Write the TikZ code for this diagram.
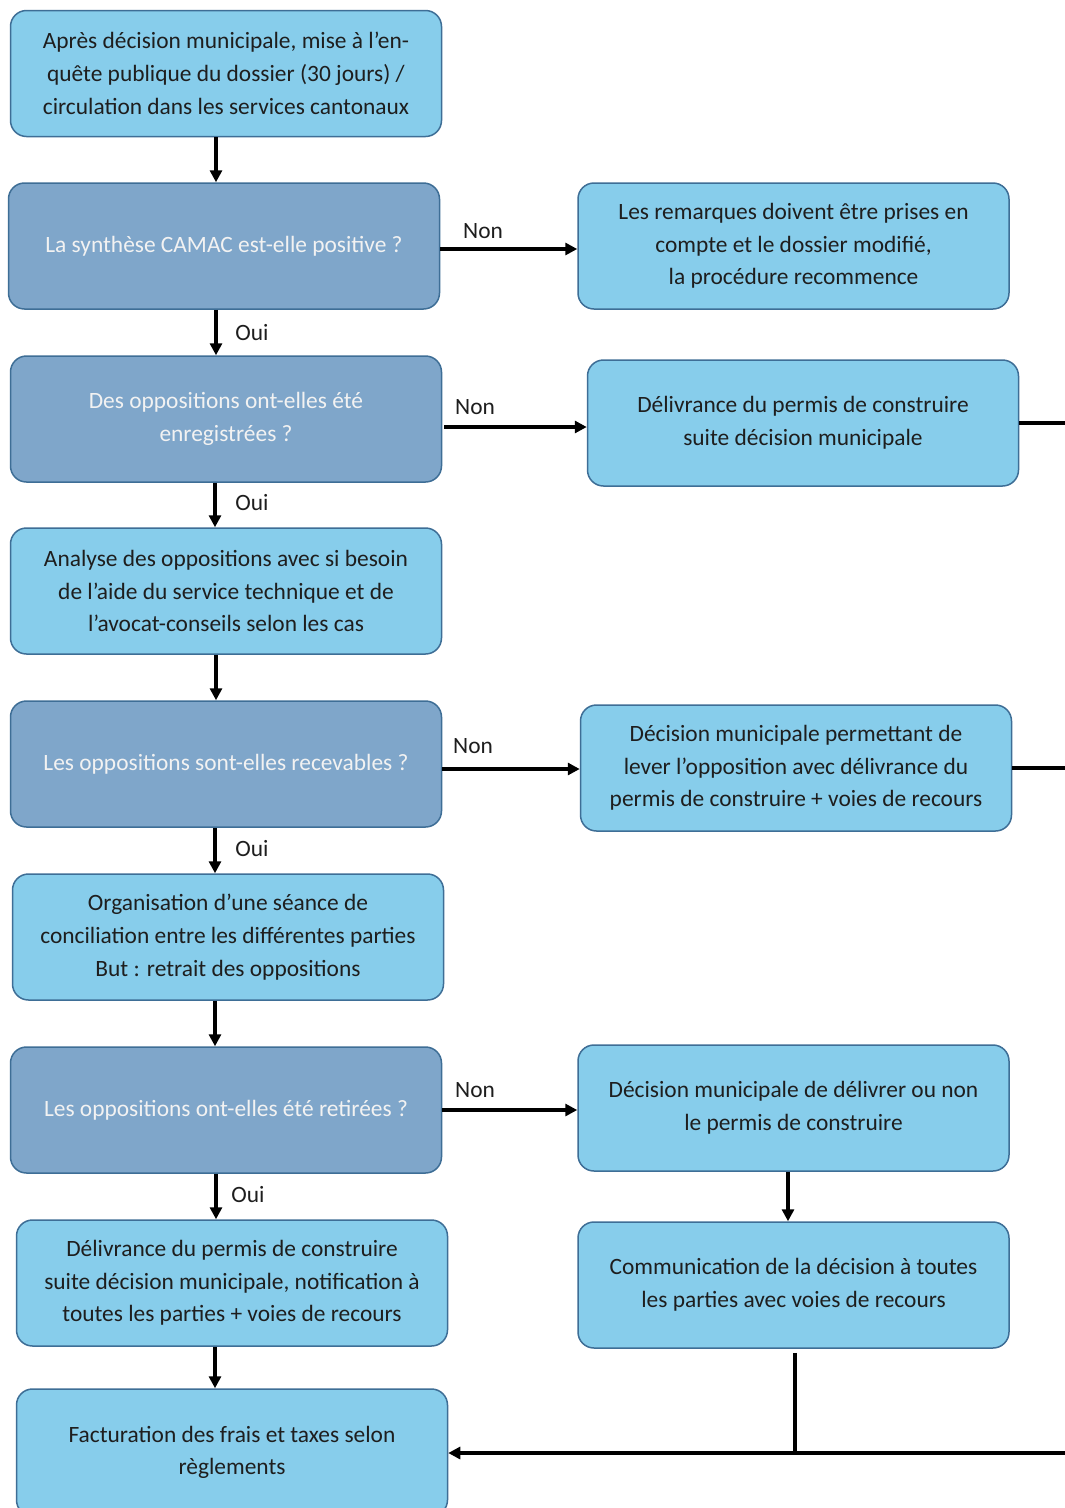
\documentclass[tikz,border=0pt]{standalone}
\usepackage{fontspec}
\setmainfont{Carlito}
\usetikzlibrary{arrows.meta}
\definecolor{boxfill}{RGB}{135,205,235}
\definecolor{qfill}{RGB}{127,166,202}
\definecolor{boxedge}{RGB}{62,110,150}
\definecolor{txt}{RGB}{30,30,30}
\definecolor{qtxt}{RGB}{242,242,242}
\tikzset{
  basebox/.style={draw=boxedge, line width=1.5pt, rounded corners=16pt, minimum width=431pt, minimum height=126pt, align=center, inner sep=0pt, font=\fontsize{23.4}{32.7}\selectfont},
  infobox/.style={basebox, fill=boxfill, text=txt},
  qbox/.style={basebox, fill=qfill, text=qtxt},
  arr/.style={line width=4pt, -{Triangle[length=12pt,width=12pt]}},
  plain/.style={line width=4pt},
  thinline/.style={line width=3.2pt},
  lbl/.style={font=\fontsize{23.4}{28}\selectfont, text=txt, inner sep=0pt}
}
\begin{document}
\begin{tikzpicture}[x=1pt,y=-1pt]
\useasboundingbox (0,0) rectangle (1065,1508);
\fill[white] (0,0) rectangle (1065,1508);
\begin{scope}
\clip (0,0) rectangle (1065,1508);
% left column
\node[infobox] (A) at (226,73.5) {Après décision municipale, mise à l’en-\\quête publique du dossier (30 jours) /\\circulation dans les services cantonaux};
\node[qbox] (Q1) at (224,246) {La synthèse CAMAC est-elle positive ?};
\node[qbox] (Q2) at (226,419) {Des oppositions ont-elles été\\enregistrées ?};
\node[infobox] (An) at (226,591) {Analyse des oppositions avec si besoin\\de l’aide du service technique et de\\l’avocat-conseils selon les cas};
\node[qbox] (Q3) at (226,764) {Les oppositions sont-elles recevables ?};
\node[infobox] (Co) at (228,937) {Organisation d’une séance de\\conciliation entre les différentes parties\\But : retrait des oppositions};
\node[qbox] (Q4) at (226,1110) {Les oppositions ont-elles été retirées ?};
\node[infobox] (De) at (232,1283) {Délivrance du permis de construire\\suite décision municipale, notification à\\toutes les parties + voies de recours};
\node[infobox, minimum height=127pt] (Fa) at (232,1452.5) {Facturation des frais et taxes selon\\règlements};
% right column
\node[infobox] (R1) at (793.5,246) {Les remarques doivent être prises en\\compte et le dossier modifié,\\la procédure recommence};
\node[infobox] (R2) at (803,423) {Délivrance du permis de construire\\suite décision municipale};
\node[infobox] (R3) at (796,768) {Décision municipale permettant de\\lever l’opposition avec délivrance du\\permis de construire + voies de recours};
\node[infobox] (R4) at (793.5,1108) {Décision municipale de délivrer ou non\\le permis de construire};
\node[infobox] (Cm) at (793.5,1285) {Communication de la décision à toutes\\les parties avec voies de recours};
% off-page ends
\coordinate (e2) at (1075,423);
\coordinate (e3) at (1075,768);
\coordinate (e5) at (1075,1453);
\coordinate (j) at (795,1453);
% vertical arrows
\draw[arr] ([xshift=-10pt]A.south) -- ([xshift=-10pt]A.south |- Q1.north);
\draw[arr] ([xshift=-8pt]Q1.south) -- ([xshift=-8pt]Q1.south |- Q2.north);
\draw[arr] ([xshift=-11pt]Q2.south) -- ([xshift=-11pt]Q2.south |- An.north);
\draw[arr] ([xshift=-10pt]An.south) -- ([xshift=-10pt]An.south |- Q3.north);
\draw[arr] ([xshift=-11pt]Q3.south) -- ([xshift=-11pt]Q3.south |- Co.north);
\draw[arr] ([xshift=-13pt]Co.south) -- ([xshift=-13pt]Co.south |- Q4.north);
\draw[arr] ([xshift=-10pt]Q4.south) -- ([xshift=-10pt]Q4.south |- De.north);
\draw[arr] ([xshift=-17pt]De.south) -- ([xshift=-17pt]De.south |- Fa.north);
\draw[arr] ([xshift=-5.5pt]R4.south) -- ([xshift=-5.5pt]R4.south |- Cm.north);
% horizontal arrows
\draw[arr] ([yshift=-3pt]Q1.east) -- ([yshift=-3pt]Q1.east -| R1.west);
\draw[arr] ([xshift=2pt,yshift=-8pt]Q2.east) -- ([yshift=-8pt]Q2.east -| R2.west);
\draw[arr] ([yshift=-5pt]Q3.east) -- ([yshift=-5pt]Q3.east -| R3.west);
\draw[arr] (Q4.east) -- (Q4.east -| R4.west);
% labels
\node[lbl] (l1) at (483,231) {Non};
\node[lbl] (l2) at (252,333) {Oui};
\node[lbl] (l3) at (475,407) {Non};
\node[lbl] (l4) at (252,503) {Oui};
\node[lbl] (l5) at (473,746) {Non};
\node[lbl] (l6) at (252,849) {Oui};
\node[lbl] (l7) at (475,1090) {Non};
\node[lbl] (l8) at (248,1195) {Oui};
% lines to the right edge
\draw[plain] (R2.east) -- (e2);
\draw[plain] (R3.east) -- (e3);
% bottom merge
\draw[thinline] ([yshift=-4pt]Cm.south -| j) -- (j);
\draw[arr] (e5) -- (e5 -| Fa.east);
\end{scope}
\end{tikzpicture}
\end{document}
